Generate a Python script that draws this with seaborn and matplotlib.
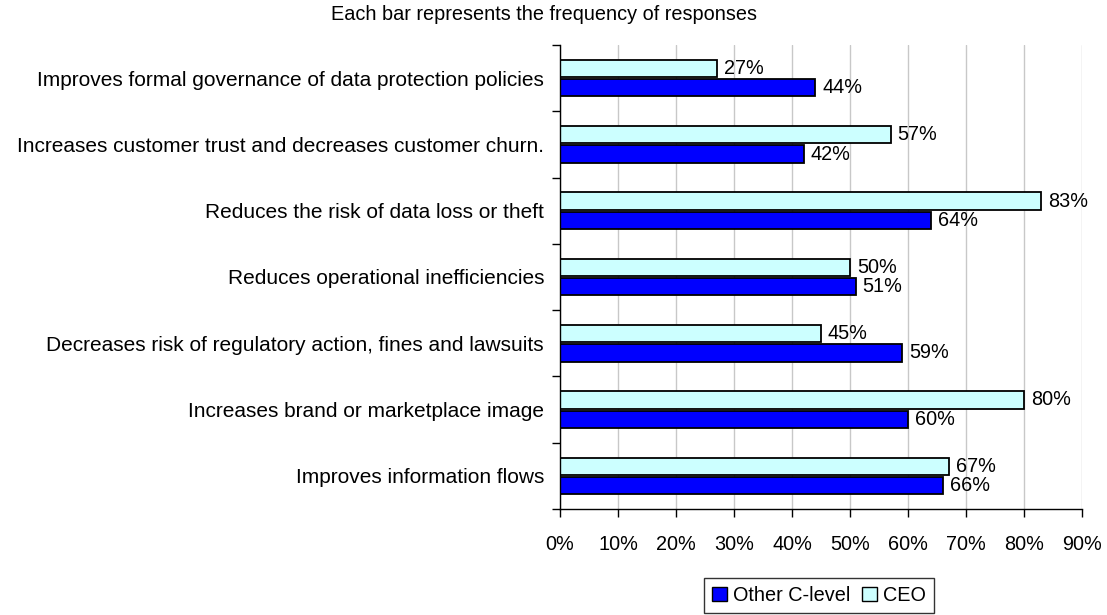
import matplotlib
matplotlib.use("Agg")
import matplotlib.pyplot as plt
import matplotlib.patches as mpatches
import pandas as pd
import seaborn as sns

# Survey results: share of respondents citing each benefit
categories = [
    "Improves formal governance of data protection policies",
    "Increases customer trust and decreases customer churn.",
    "Reduces the risk of data loss or theft",
    "Reduces operational inefficiencies",
    "Decreases risk of regulatory action, fines and lawsuits",
    "Increases brand or marketplace image",
    "Improves information flows",
]
ceo = [27, 57, 83, 50, 45, 80, 67]
other_c_level = [44, 42, 64, 51, 59, 60, 66]
x_ticks = [0, 10, 20, 30, 40, 50, 60, 70, 80, 90]
title = "Each bar represents the frequency of responses"

series_names = ["CEO", "Other C-level"]
palette = {"CEO": "#CCFFFF", "Other C-level": "#0000FF"}

df = pd.DataFrame({
    "category": categories * 2,
    "group": ["CEO"] * len(categories) + ["Other C-level"] * len(categories),
    "value": ceo + other_c_level,
})

FS = 14.3

sns.set_theme(style="white")
plt.rcParams["font.family"] = ["Liberation Sans", "DejaVu Sans"]
plt.rcParams["font.size"] = FS
plt.rcParams["text.color"] = "black"
plt.rcParams["xtick.color"] = "black"
plt.rcParams["ytick.color"] = "black"
plt.rcParams["axes.labelcolor"] = "black"

fig = plt.figure(figsize=(11.07, 6.15), dpi=100)
ax = fig.add_axes([560 / 1107, 1 - 509 / 615, (1082 - 560) / 1107, (509 - 45) / 615])

sns.barplot(
    data=df, y="category", x="value", hue="group",
    order=categories, hue_order=series_names, palette=palette,
    orient="h", width=0.58, gap=0.1, dodge=True,
    edgecolor="black", linewidth=1.3, saturation=1, legend=False, ax=ax,
)

for container in ax.containers:
    ax.bar_label(container, fmt="%g%%", padding=5, fontsize=FS, color="black")

ax.set_xlim(0, 90)
ax.set_ylim(len(categories) - 0.5, -0.5)
ax.set_xticks(x_ticks)
ax.set_xticklabels([f"{t}%" for t in x_ticks], fontsize=FS, color="black")
ax.set_xlabel("")
ax.set_ylabel("")

# Category names centred on each group; tick marks on the group boundaries
ax.set_yticks(range(len(categories)))
ax.set_yticklabels(categories, fontsize=15, color="black")
ax.tick_params(axis="y", which="major", length=0, pad=11.5)
ax.set_yticks([i - 0.5 for i in range(len(categories) + 1)], minor=True)
ax.tick_params(axis="y", which="minor", length=6, width=1, color="black", direction="out", left=True)
ax.tick_params(axis="x", which="major", length=6, width=1, color="black", direction="out",
               bottom=True, pad=13)

ax.grid(axis="x", color="#C8C8C8", linewidth=1)
ax.grid(axis="y", visible=False)
ax.set_axisbelow(True)

sns.despine(ax=ax, top=True, right=True)
for side in ("left", "bottom"):
    ax.spines[side].set_color("black")
    ax.spines[side].set_linewidth(1)

fig.text(544 / 1107, 1 - 15 / 615, title, ha="center", va="center", fontsize=FS, color="black")

handles = [
    mpatches.Patch(facecolor=palette["Other C-level"], edgecolor="black", label="Other C-level"),
    mpatches.Patch(facecolor=palette["CEO"], edgecolor="black", label="CEO"),
]
leg = fig.legend(
    handles=handles, loc="upper center", bbox_to_anchor=(819 / 1107, 1 - 578 / 615),
    ncol=2, frameon=True, fancybox=False, shadow=False, fontsize=FS,
    handlelength=0.75, handleheight=0.75, handletextpad=0.3, columnspacing=0.6,
    borderpad=0.4, borderaxespad=0,
)
leg.get_frame().set_edgecolor("black")
leg.get_frame().set_linewidth(1)
for text in leg.get_texts():
    text.set_color("black")

fig.savefig("out.png", dpi=100, facecolor="white")
